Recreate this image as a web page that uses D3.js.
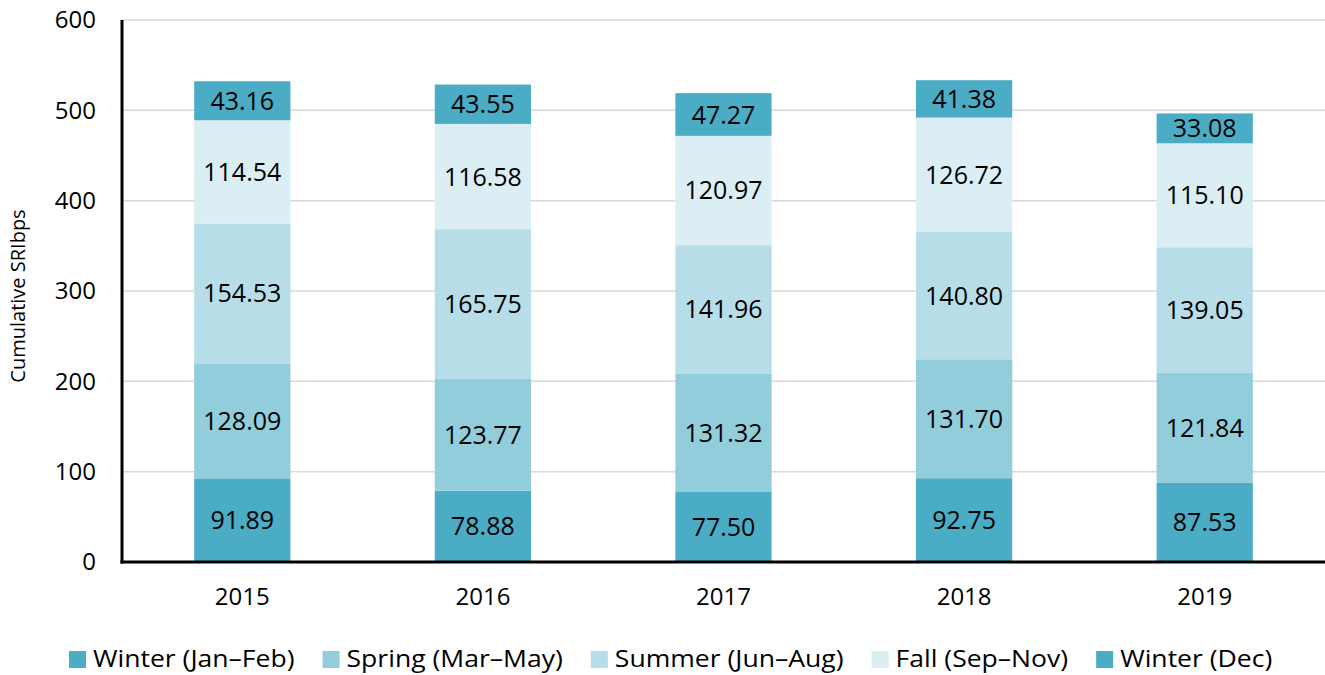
<!DOCTYPE html>
<html>
<head>
<meta charset="utf-8">
<script src="https://cdn.jsdelivr.net/npm/d3@7"></script>
<style>
  body { margin: 0; background: #fff; }
  text { font-family: "Open Sans", sans-serif; fill: #000; }
</style>
</head>
<body>
<svg width="1325" height="675"></svg>
<script>
  // chart data
  const years = ['2015', '2016', '2017', '2018', '2019'];
  const seasons = ['Winter (Jan–Feb)', 'Spring (Mar–May)', 'Summer (Jun–Aug)', 'Fall (Sep–Nov)', 'Winter (Dec)'];
  const winterJanFeb = [91.89, 78.88, 77.50, 92.75, 87.53];
  const spring = [128.09, 123.77, 131.32, 131.70, 121.84];
  const summer = [154.53, 165.75, 141.96, 140.80, 139.05];
  const fall = [114.54, 116.58, 120.97, 126.72, 115.10];
  const winterDec = [43.16, 43.55, 47.27, 41.38, 33.08];
  const yTicks = [0, 100, 200, 300, 400, 500, 600];

  const colors = ['#4bacc6', '#92cddc', '#b7dee8', '#daeef3', '#4bacc6'];

  const svg = d3.select('svg');
  const margin = { top: 20, right: 0, bottom: 113, left: 122 };
  const width = +svg.attr('width');
  const height = +svg.attr('height');
  const innerWidth = width - margin.left - margin.right;
  const innerHeight = height - margin.top - margin.bottom;

  const table = years.map((y, i) => ({
    year: y,
    [seasons[0]]: winterJanFeb[i],
    [seasons[1]]: spring[i],
    [seasons[2]]: summer[i],
    [seasons[3]]: fall[i],
    [seasons[4]]: winterDec[i]
  }));

  const stacked = d3.stack().keys(seasons)(table);

  const xScale = d3.scaleBand()
    .domain(years)
    .range([0, innerWidth])
    .paddingInner(0.6)
    .paddingOuter(0.3);

  const yScale = d3.scaleLinear()
    .domain([0, 600])
    .range([innerHeight, 0]);

  const g = svg.append('g')
    .attr('transform', `translate(${margin.left},${margin.top})`);

  // gridlines behind bars
  g.append('g')
    .selectAll('line').data(yTicks.filter(d => d > 0))
    .enter().append('line')
      .attr('x1', 0)
      .attr('x2', innerWidth)
      .attr('y1', d => yScale(d))
      .attr('y2', d => yScale(d))
      .attr('stroke', '#d9d9d9')
      .attr('stroke-width', 1.5);

  const layer = g.selectAll('.layer').data(stacked)
    .enter().append('g')
      .attr('class', 'layer')
      .attr('fill', (d, i) => colors[i]);

  layer.selectAll('rect').data(d => d)
    .enter().append('rect')
      .attr('x', d => xScale(d.data.year))
      .attr('width', xScale.bandwidth())
      .attr('y', d => yScale(d[1]))
      .attr('height', d => yScale(d[0]) - yScale(d[1]));

  layer.selectAll('text').data(d => d)
    .enter().append('text')
      .attr('x', d => xScale(d.data.year) + xScale.bandwidth() / 2)
      .attr('y', d => (yScale(d[0]) + yScale(d[1])) / 2)
      .attr('dy', '0.36em')
      .attr('text-anchor', 'middle')
      .style('font-size', '25px')
      .text(d => (d[1] - d[0]).toFixed(2));

  // y axis
  const yAxisG = g.append('g')
    .call(d3.axisLeft(yScale).tickValues(yTicks).tickSize(0).tickPadding(26));
  yAxisG.select('.domain').remove();
  yAxisG.selectAll('text').style('font-size', '24px');

  // x axis
  const xAxisG = g.append('g')
    .attr('transform', `translate(0,${innerHeight})`)
    .call(d3.axisBottom(xScale).tickSize(0).tickPadding(26));
  xAxisG.select('.domain').remove();
  xAxisG.selectAll('text').style('font-size', '24px');

  // axis lines
  g.append('line')
    .attr('x1', 0).attr('x2', 0)
    .attr('y1', 0).attr('y2', innerHeight + 1.5)
    .attr('stroke', '#000').attr('stroke-width', 3);
  g.append('line')
    .attr('x1', -1.5).attr('x2', innerWidth)
    .attr('y1', innerHeight).attr('y2', innerHeight)
    .attr('stroke', '#000').attr('stroke-width', 3);

  svg.append('text')
    .attr('transform', `translate(25,${margin.top + innerHeight / 2 + 5}) rotate(-90)`)
    .attr('text-anchor', 'middle')
    .style('font-size', '20px')
    .text('Cumulative SRIbps');

  // legend (text is a bit wider in the reference, stretch horizontally)
  const stretch = 1.155;
  const legend = svg.append('g')
    .attr('transform', 'translate(69,659)');
  let lx = 0;
  seasons.forEach((s, i) => {
    const item = legend.append('g').attr('transform', `translate(${lx},0)`);
    item.append('rect')
      .attr('x', 0).attr('y', -8)
      .attr('width', 17).attr('height', 17)
      .attr('fill', colors[i]);
    const t = item.append('text')
      .attr('transform', `translate(24,0) scale(${stretch},1)`)
      .attr('dy', '0.36em')
      .style('font-size', '23px')
      .text(s);
    lx += 24 + t.node().getComputedTextLength() * stretch + 28;
  });
</script>
</body>
</html>
